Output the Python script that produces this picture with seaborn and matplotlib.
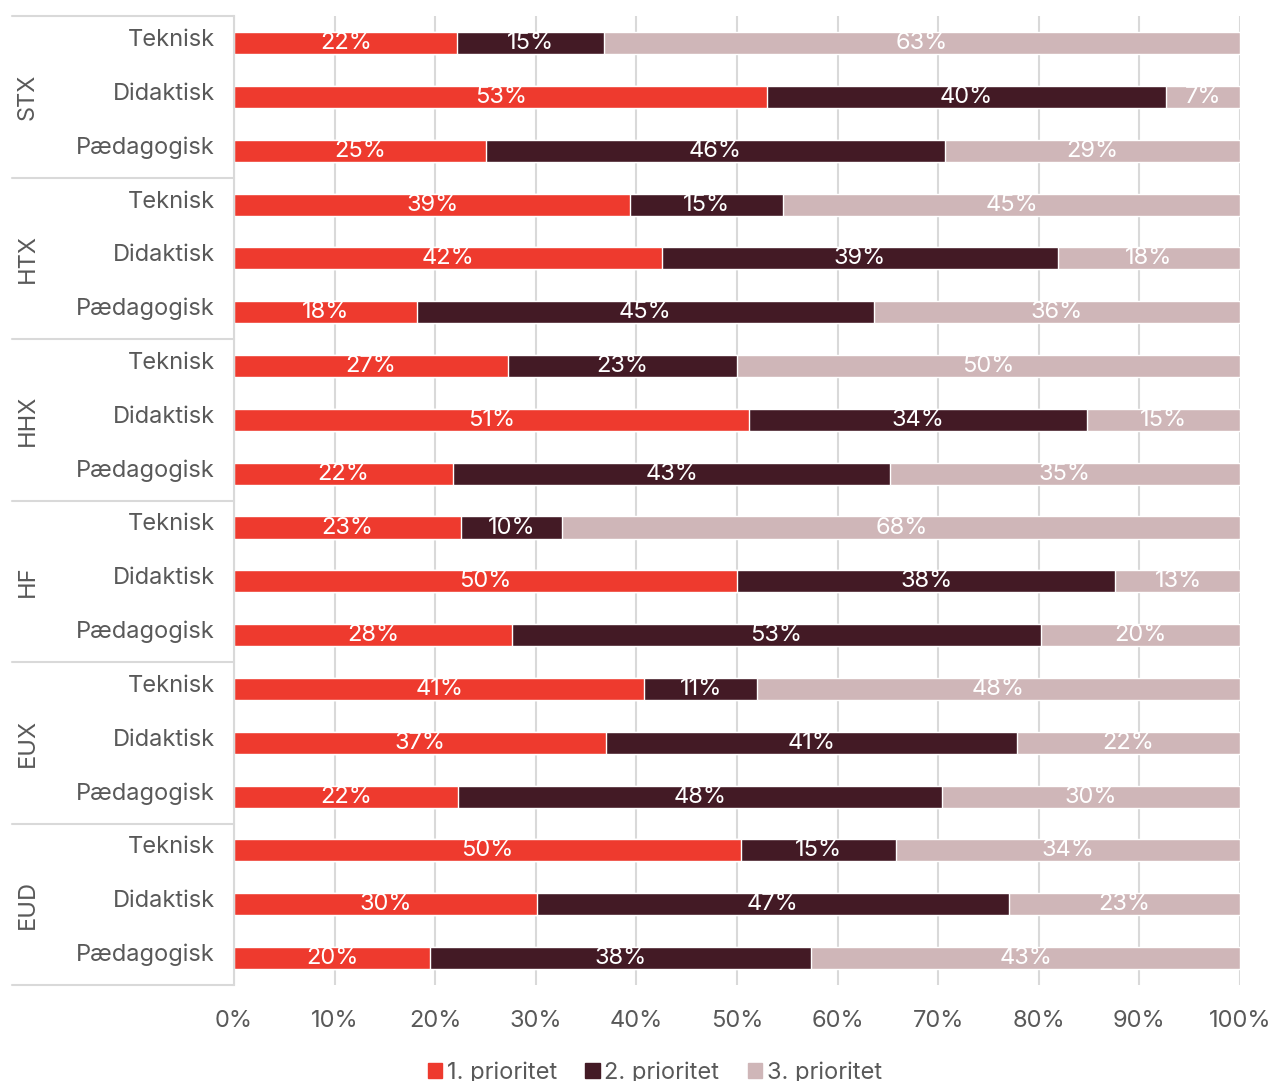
import numpy as np
import pandas as pd
import seaborn as sns
import matplotlib.pyplot as plt
from matplotlib.patches import Patch
import matplotlib.transforms as mtransforms

# Groups and categories (top to bottom)
groups = ["STX", "HTX", "HHX", "HF", "EUX", "EUD"]
categories = ["Teknisk", "Didaktisk", "Pædagogisk"]

# Shares in % per row (STX Teknisk ... EUD Pædagogisk)
prio1 = [22.2, 53.0, 25.0, 39.4, 42.5, 18.2, 27.2, 51.2, 21.8,
         22.6, 50.0, 27.6, 40.8, 37.0, 22.3, 50.4, 30.1, 19.5]
prio2 = [14.6, 39.6, 45.7, 15.2, 39.4, 45.4, 22.8, 33.6, 43.4,
         10.0, 37.6, 52.6, 11.2, 40.8, 48.1, 15.4, 46.9, 37.9]
prio3 = [63.2, 7.4, 29.3, 45.4, 18.1, 36.4, 50.0, 15.2, 34.8,
         67.6, 12.6, 19.8, 48.0, 22.2, 29.6, 34.2, 23.0, 42.6]

series_names = ["1. prioritet", "2. prioritet", "3. prioritet"]
colors = ["#EE3A2E", "#431A25", "#CFB6B8"]

rows = [f"{g}|{c}" for g in groups for c in categories]
df = pd.DataFrame({"row": rows, "p1": prio1, "p2": prio2, "p3": prio3})
df["c1"] = df["p1"]
df["c2"] = df["p1"] + df["p2"]
df["c3"] = np.minimum(df["c2"] + df["p3"], 100)

sns.set_theme(style="white")
plt.rcParams["font.family"] = ["Inter", "DejaVu Sans"]

fig = plt.figure(figsize=(12.74, 10.81), dpi=100)
ax = fig.add_axes([0.1837, 0.0888, 0.7896, 0.8962])

# stacked bars drawn as overlapping cumulative bars
for col, color in zip(["c3", "c2", "c1"], colors[::-1]):
    sns.barplot(data=df, x=col, y="row", order=rows, color=color,
                width=0.41, saturation=1, ax=ax, zorder=2)

# value labels
for i, r in df.iterrows():
    starts = [0, r["c1"], r["c2"]]
    for s, v in zip(starts, [r["p1"], r["p2"], r["p3"]]):
        ax.text(s + v / 2, i, f"{v:.0f}%", ha="center", va="center",
                color="white", fontsize=17, zorder=3)

ax.set_xlim(0, 100)
ax.set_ylim(len(rows) - 0.5, -0.5)
ax.set_xticks(np.arange(0, 101, 10))
ax.set_xticklabels([f"{t}%" for t in range(0, 101, 10)])
ax.set_yticks(range(len(rows)))
ax.set_yticklabels([r.split("|")[1] for r in rows])
ax.tick_params(axis="x", labelsize=17, labelcolor="#595959", pad=18, length=0)
ax.tick_params(axis="y", labelsize=17, labelcolor="#595959", pad=14, length=0)
shift = mtransforms.ScaledTranslation(0, 4 / 72, fig.dpi_scale_trans)
for lbl in ax.get_yticklabels():
    lbl.set_transform(lbl.get_transform() + shift)
ax.set_xlabel("")
ax.set_ylabel("")
ax.grid(axis="x", color="#D9D9D9", linewidth=1.5, zorder=0)
ax.set_axisbelow(True)
for side in ["top", "right", "bottom"]:
    ax.spines[side].set_visible(False)
ax.spines["left"].set_color("#D9D9D9")
ax.spines["left"].set_linewidth(1.5)

# group labels and separators on the left
trans = mtransforms.blended_transform_factory(ax.transAxes, ax.transData)
for k, g in enumerate(groups):
    ax.text(-0.205, 3 * k + 1, g, transform=trans, rotation=90,
            ha="center", va="center", fontsize=17, color="#595959")
for k in range(len(groups) + 1):
    ax.plot([-0.221, 0], [3 * k - 0.5] * 2, transform=trans, color="#D9D9D9",
            linewidth=1.5, clip_on=False)

handles = [Patch(color=c, label=n) for c, n in zip(colors, series_names)]
fig.legend(handles=handles, loc="lower center", bbox_to_anchor=(0.514, -0.022),
           ncol=3, frameon=False, fontsize=17, handlelength=0.6, handleheight=0.6,
           handletextpad=0.2, columnspacing=1.2, labelcolor="#595959")

fig.savefig("out.png", dpi=100)
